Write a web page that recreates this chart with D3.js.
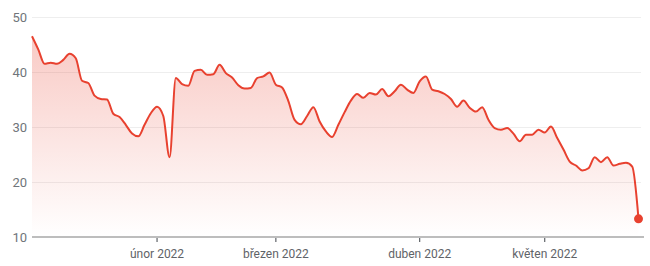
<!DOCTYPE html>
<html>
<head>
<meta charset="utf-8">
<script src="https://cdn.jsdelivr.net/npm/d3@7"></script>
<style>
  body { margin: 0; background: #fff; }
  svg { display: block; font-family: Roboto, "Noto Sans", sans-serif; }
</style>
</head>
<body>
<div id="vis"></div>
<script>
// closing values, one per trading day (index 0 = first trading day of January)
const values = [
  46.5, 44.1, 41.5, 41.7, 41.5, 42.2, 43.3, 42.5, 38.4, 38.0,
  35.7, 35.1, 35.0, 32.4, 31.8, 30.4, 28.8, 28.3, 30.4, 32.5,
  33.7, 32.0, 24.5, 38.9, 37.8, 37.5, 40.2, 40.4, 39.5, 39.6,
  41.3, 39.8, 39.0, 37.6, 37.0, 37.1, 38.9, 39.2, 39.9, 37.7,
  37.2, 34.7, 31.3, 30.5, 32.0, 33.6, 31.0, 29.2, 28.2, 30.4,
  32.7, 34.8, 36.0, 35.3, 36.2, 35.9, 36.9, 35.6, 36.5, 37.7,
  36.8, 36.2, 38.3, 39.2, 36.8, 36.5, 36.0, 35.1, 33.7, 34.8,
  33.5, 32.8, 33.6, 31.3, 29.8, 29.5, 29.8, 28.8, 27.4, 28.6,
  28.6, 29.5, 29.0, 30.1, 28.0, 25.9, 23.7, 23.0, 22.1, 22.5,
  24.5, 23.6, 24.5, 23.0, 23.3, 23.5, 22.8, 13.3
];
const yTicks = [10, 20, 30, 40, 50];
const monthTickIndex = [20, 39, 62, 82];
const monthLabels = ["únor 2022", "březen 2022", "duben 2022", "květen 2022"];

const W = 650, H = 266;
const margin = { top: 17, right: 10, bottom: 29, left: 32 };
const red = "#e8412f";

const svg = d3.select("#vis").append("svg")
  .attr("width", W)
  .attr("height", H);

const x = d3.scaleLinear()
  .domain([0, values.length - 1])
  .range([margin.left, 638.5]);

const y = d3.scaleLinear()
  .domain([10, 50])
  .range([H - margin.bottom, margin.top]);

// gridlines
svg.append("g")
  .selectAll("line")
  .data(yTicks.slice(1))
  .join("line")
  .attr("x1", margin.left)
  .attr("x2", 641)
  .attr("y1", d => Math.round(y(d)) + 0.5)
  .attr("y2", d => Math.round(y(d)) + 0.5)
  .attr("stroke", "#eeeeee")
  .attr("stroke-width", 1);

// y labels
svg.append("g")
  .selectAll("text")
  .data(yTicks)
  .join("text")
  .attr("x", 27)
  .attr("y", d => y(d))
  .attr("dy", "0.35em")
  .attr("text-anchor", "end")
  .attr("fill", "#70757a")
  .attr("font-size", 13)
  .text(d => d);

// area gradient
const defs = svg.append("defs");
const grad = defs.append("linearGradient")
  .attr("id", "fillGrad")
  .attr("gradientUnits", "userSpaceOnUse")
  .attr("x1", 0).attr("x2", 0)
  .attr("y1", y(d3.max(values)))
  .attr("y2", y(10));
grad.append("stop").attr("offset", "0%").attr("stop-color", red).attr("stop-opacity", 0.28);
grad.append("stop").attr("offset", "100%").attr("stop-color", red).attr("stop-opacity", 0);

const area = d3.area()
  .x((d, i) => x(i))
  .y0(y(10))
  .y1(d => y(d))
  .curve(d3.curveMonotoneX);

const line = d3.line()
  .x((d, i) => x(i))
  .y(d => y(d))
  .curve(d3.curveMonotoneX);

svg.append("path")
  .datum(values)
  .attr("fill", "url(#fillGrad)")
  .attr("d", area);

// baseline axis
const xAxis = svg.append("g")
  .attr("transform", `translate(0,${y(10)})`);
xAxis.append("line")
  .attr("x1", margin.left)
  .attr("x2", 644)
  .attr("stroke", "#bdbdbd")
  .attr("stroke-width", 2);
const ticks = xAxis.selectAll("g.tick")
  .data(monthTickIndex)
  .join("g")
  .attr("class", "tick")
  .attr("transform", d => `translate(${x(d)},0)`);
ticks.append("line")
  .attr("y1", 1)
  .attr("y2", 5)
  .attr("stroke", "#5f6368")
  .attr("stroke-width", 1.2);
ticks.append("text")
  .attr("y", 21)
  .attr("text-anchor", "middle")
  .attr("fill", "#5f6368")
  .attr("font-size", 12)
  .text((d, i) => monthLabels[i]);

svg.append("path")
  .datum(values)
  .attr("fill", "none")
  .attr("stroke", red)
  .attr("stroke-width", 2)
  .attr("stroke-linejoin", "round")
  .attr("d", line);

svg.append("circle")
  .attr("cx", x(values.length - 1))
  .attr("cy", y(values[values.length - 1]))
  .attr("r", 4.5)
  .attr("fill", red);
</script>
</body>
</html>
